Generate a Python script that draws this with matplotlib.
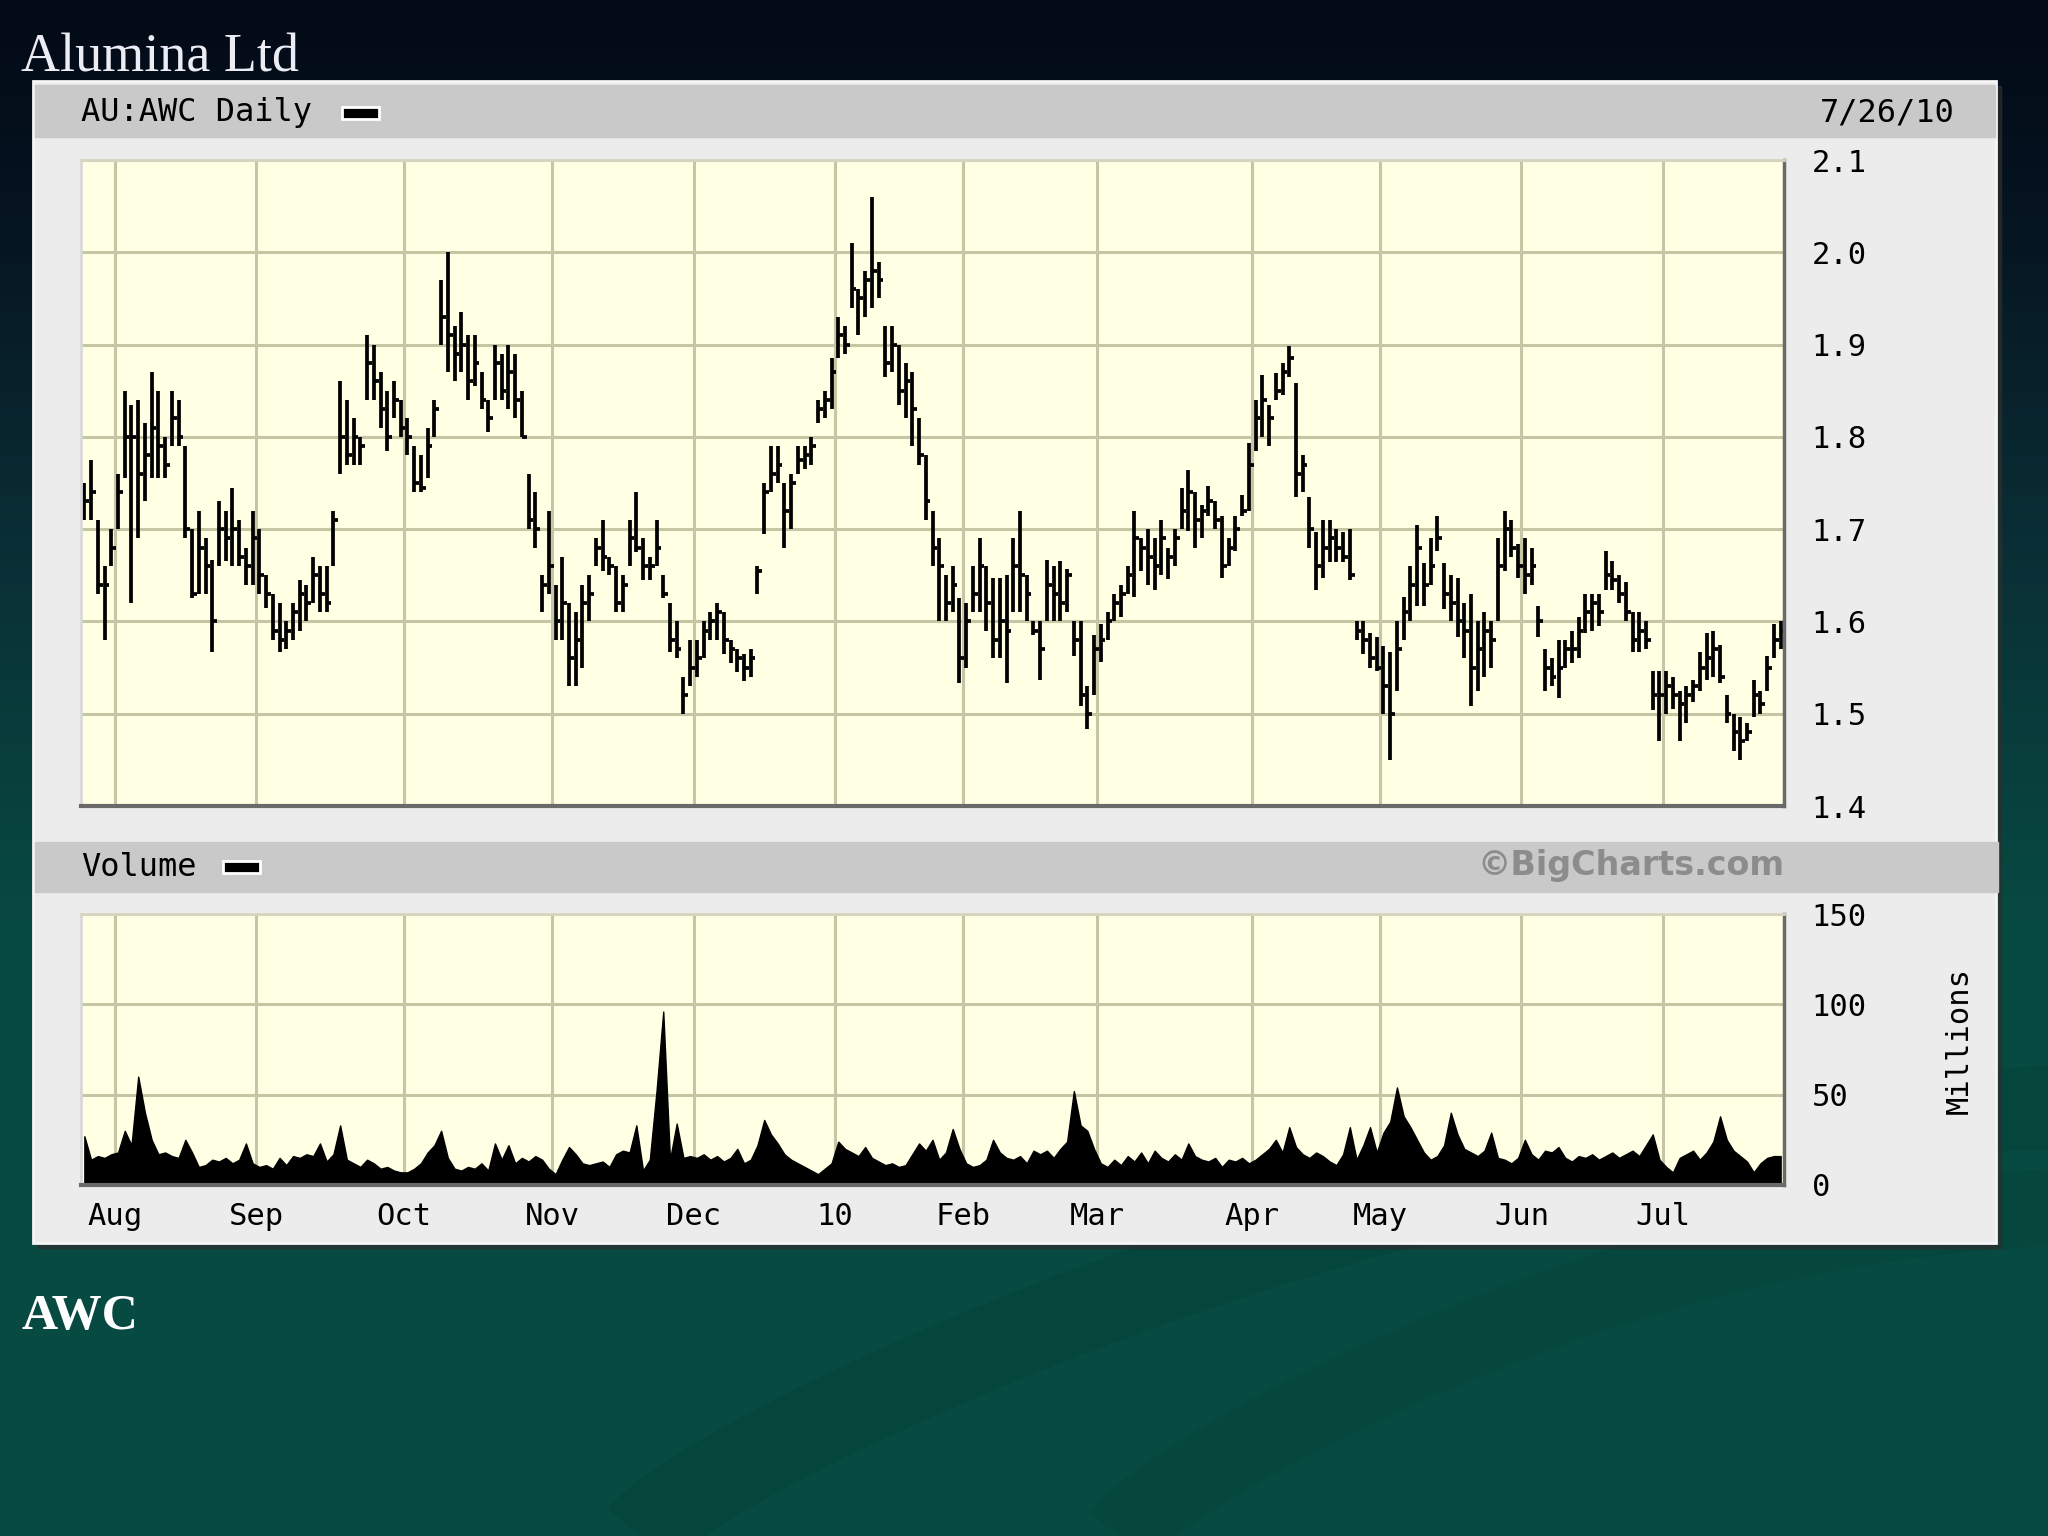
import numpy as np
import matplotlib
matplotlib.use('Agg')
from matplotlib import pyplot as plt
from matplotlib.colors import LinearSegmentedColormap
from matplotlib.patches import Rectangle

# trading days per month (first entry = last days of Jul 2009)
days_per_month = [5, 21, 22, 22, 21, 21, 19, 20, 23, 19, 21, 21, 18]
month_labels = ['Aug', 'Sep', 'Oct', 'Nov', 'Dec', '10', 'Feb', 'Mar', 'Apr', 'May', 'Jun', 'Jul']

high = [
    1.75, 1.775, 1.71, 1.66, 1.70,
    1.76, 1.85, 1.835, 1.84, 1.815, 1.87, 1.85, 1.80, 1.85, 1.84, 1.79, 1.70, 1.72, 1.69, 1.667, 1.73, 1.72, 1.745, 1.71, 1.68, 1.72,
    1.70, 1.65, 1.63, 1.62, 1.60, 1.62, 1.645, 1.64, 1.67, 1.66, 1.66, 1.72, 1.86, 1.84, 1.82, 1.80, 1.91, 1.90, 1.87, 1.85, 1.86, 1.84,
    1.82, 1.79, 1.78, 1.81, 1.84, 1.97, 2.00, 1.92, 1.935, 1.91, 1.91, 1.87, 1.84, 1.90, 1.89, 1.90, 1.89, 1.85, 1.76, 1.74, 1.65, 1.72,
    1.64, 1.67, 1.62, 1.61, 1.64, 1.65, 1.69, 1.71, 1.67, 1.66, 1.65, 1.71, 1.74, 1.69, 1.67, 1.71, 1.65, 1.62, 1.60, 1.54, 1.58,
    1.58, 1.60, 1.61, 1.62, 1.61, 1.58, 1.57, 1.565, 1.57, 1.66, 1.75, 1.79, 1.79, 1.75, 1.76, 1.79, 1.79, 1.80, 1.84, 1.85, 1.885,
    1.93, 1.92, 2.01, 1.96, 1.98, 2.06, 1.99, 1.92, 1.92, 1.90, 1.88, 1.87, 1.82, 1.78, 1.72, 1.69, 1.65, 1.66, 1.625,
    1.62, 1.66, 1.69, 1.66, 1.647, 1.647, 1.65, 1.69, 1.72, 1.65, 1.60, 1.60, 1.667, 1.66, 1.665, 1.657, 1.60, 1.60, 1.53, 1.585,
    1.597, 1.61, 1.63, 1.64, 1.66, 1.72, 1.69, 1.70, 1.69, 1.71, 1.68, 1.70, 1.745, 1.764, 1.74, 1.726, 1.747, 1.73, 1.714, 1.69, 1.714, 1.737, 1.793,
    1.84, 1.867, 1.835, 1.869, 1.88, 1.898, 1.858, 1.78, 1.735, 1.697, 1.71, 1.71, 1.70, 1.697, 1.70, 1.60, 1.60, 1.588, 1.583,
    1.573, 1.567, 1.60, 1.626, 1.66, 1.705, 1.663, 1.69, 1.714, 1.663, 1.65, 1.647, 1.62, 1.63, 1.60, 1.61, 1.60, 1.69, 1.72, 1.71, 1.684,
    1.69, 1.68, 1.617, 1.57, 1.56, 1.58, 1.58, 1.59, 1.605, 1.63, 1.63, 1.63, 1.676, 1.665, 1.65, 1.643, 1.61, 1.61, 1.60, 1.546, 1.546,
    1.546, 1.54, 1.525, 1.53, 1.537, 1.567, 1.588, 1.59, 1.575, 1.52, 1.50, 1.496, 1.49, 1.537, 1.525, 1.563, 1.597, 1.60,
]

low = [
    1.71, 1.71, 1.63, 1.58, 1.66,
    1.70, 1.755, 1.62, 1.69, 1.73, 1.755, 1.755, 1.755, 1.79, 1.79, 1.69, 1.625, 1.63, 1.63, 1.567, 1.66, 1.665, 1.66, 1.66, 1.64, 1.64,
    1.63, 1.615, 1.58, 1.567, 1.57, 1.58, 1.59, 1.60, 1.62, 1.61, 1.61, 1.66, 1.76, 1.77, 1.77, 1.77, 1.84, 1.84, 1.81, 1.785, 1.82, 1.80,
    1.78, 1.74, 1.74, 1.755, 1.80, 1.90, 1.87, 1.86, 1.87, 1.84, 1.855, 1.83, 1.805, 1.84, 1.84, 1.83, 1.82, 1.80, 1.70, 1.68, 1.61, 1.63,
    1.58, 1.58, 1.53, 1.53, 1.55, 1.60, 1.66, 1.655, 1.65, 1.61, 1.61, 1.66, 1.675, 1.645, 1.645, 1.66, 1.625, 1.567, 1.56, 1.50, 1.53,
    1.54, 1.56, 1.58, 1.58, 1.565, 1.555, 1.545, 1.535, 1.54, 1.63, 1.695, 1.74, 1.75, 1.68, 1.70, 1.76, 1.765, 1.77, 1.815, 1.82, 1.83,
    1.885, 1.89, 1.94, 1.91, 1.93, 1.94, 1.95, 1.865, 1.87, 1.835, 1.82, 1.79, 1.77, 1.71, 1.66, 1.60, 1.60, 1.61, 1.533,
    1.55, 1.61, 1.61, 1.59, 1.56, 1.56, 1.533, 1.61, 1.61, 1.60, 1.585, 1.537, 1.60, 1.60, 1.60, 1.61, 1.563, 1.508, 1.483, 1.52,
    1.556, 1.58, 1.60, 1.605, 1.63, 1.627, 1.655, 1.64, 1.634, 1.65, 1.646, 1.66, 1.70, 1.698, 1.68, 1.69, 1.714, 1.70, 1.647, 1.66, 1.676, 1.714, 1.72,
    1.785, 1.80, 1.79, 1.84, 1.845, 1.865, 1.735, 1.74, 1.68, 1.634, 1.647, 1.664, 1.664, 1.664, 1.645, 1.58, 1.565, 1.55, 1.546,
    1.50, 1.45, 1.525, 1.58, 1.60, 1.617, 1.617, 1.64, 1.676, 1.613, 1.60, 1.583, 1.56, 1.508, 1.525, 1.54, 1.55, 1.60, 1.655, 1.67, 1.647,
    1.63, 1.64, 1.583, 1.525, 1.53, 1.517, 1.55, 1.555, 1.56, 1.588, 1.59, 1.595, 1.634, 1.634, 1.62, 1.60, 1.567, 1.567, 1.57, 1.504, 1.47,
    1.50, 1.505, 1.47, 1.49, 1.513, 1.525, 1.537, 1.54, 1.533, 1.49, 1.46, 1.45, 1.47, 1.496, 1.50, 1.525, 1.56, 1.57,
]

close = [
    1.73, 1.74, 1.64, 1.64, 1.68,
    1.74, 1.80, 1.80, 1.76, 1.78, 1.81, 1.79, 1.77, 1.82, 1.80, 1.70, 1.63, 1.68, 1.66, 1.60, 1.70, 1.69, 1.70, 1.67, 1.66, 1.69,
    1.65, 1.63, 1.59, 1.58, 1.59, 1.61, 1.63, 1.62, 1.65, 1.63, 1.62, 1.71, 1.80, 1.78, 1.80, 1.79, 1.88, 1.86, 1.83, 1.80, 1.84, 1.81,
    1.80, 1.75, 1.745, 1.79, 1.83, 1.93, 1.91, 1.89, 1.90, 1.86, 1.88, 1.84, 1.82, 1.88, 1.85, 1.87, 1.84, 1.80, 1.71, 1.70, 1.64, 1.66,
    1.60, 1.62, 1.56, 1.58, 1.62, 1.63, 1.68, 1.67, 1.66, 1.62, 1.64, 1.69, 1.68, 1.66, 1.66, 1.68, 1.63, 1.58, 1.57, 1.52, 1.55,
    1.56, 1.59, 1.60, 1.61, 1.58, 1.57, 1.56, 1.55, 1.56, 1.655, 1.74, 1.76, 1.77, 1.72, 1.75, 1.775, 1.78, 1.79, 1.83, 1.84, 1.87,
    1.91, 1.90, 1.96, 1.95, 1.97, 1.98, 1.97, 1.88, 1.90, 1.85, 1.86, 1.83, 1.78, 1.73, 1.68, 1.66, 1.62, 1.64, 1.56,
    1.60, 1.63, 1.66, 1.62, 1.58, 1.60, 1.59, 1.66, 1.65, 1.63, 1.59, 1.57, 1.64, 1.63, 1.62, 1.65, 1.58, 1.52, 1.50, 1.57,
    1.58, 1.60, 1.62, 1.63, 1.65, 1.69, 1.68, 1.67, 1.66, 1.69, 1.67, 1.69, 1.72, 1.74, 1.71, 1.72, 1.73, 1.71, 1.66, 1.68, 1.70, 1.72, 1.77,
    1.82, 1.84, 1.82, 1.85, 1.87, 1.885, 1.76, 1.77, 1.70, 1.66, 1.68, 1.69, 1.68, 1.67, 1.65, 1.59, 1.58, 1.56, 1.55,
    1.53, 1.50, 1.57, 1.61, 1.64, 1.68, 1.64, 1.66, 1.69, 1.63, 1.62, 1.60, 1.59, 1.55, 1.57, 1.59, 1.58, 1.66, 1.70, 1.68, 1.66,
    1.65, 1.66, 1.60, 1.55, 1.54, 1.55, 1.57, 1.57, 1.59, 1.61, 1.62, 1.61, 1.65, 1.645, 1.63, 1.61, 1.58, 1.59, 1.58, 1.52, 1.52,
    1.53, 1.52, 1.51, 1.52, 1.53, 1.55, 1.56, 1.57, 1.54, 1.50, 1.48, 1.47, 1.48, 1.52, 1.51, 1.55, 1.58, 1.59,
]

# volume, millions
volume = [
    27, 14, 16, 15, 17,
    18, 30, 22, 60, 40, 25, 17, 18, 16, 15, 25, 18, 10, 11, 14, 13, 15, 12, 14, 23, 12,
    10, 11, 9, 15, 11, 16, 15, 17, 16, 23, 13, 17, 33, 14, 12, 10, 14, 12, 9, 10, 8, 7,
    7, 9, 12, 18, 22, 30, 15, 9, 8, 10, 9, 12, 8, 23, 14, 22, 12, 15, 13, 16, 14, 9,
    6, 14, 21, 17, 12, 11, 12, 13, 10, 17, 19, 18, 33, 8, 14, 52, 96, 14, 34, 15, 16,
    15, 17, 14, 16, 13, 15, 20, 12, 14, 22, 36, 28, 23, 17, 14, 12, 10, 8, 6, 9, 12,
    24, 20, 18, 16, 21, 15, 13, 11, 12, 10, 11, 17, 23, 19, 25, 14, 18, 31, 20,
    12, 10, 11, 14, 25, 18, 15, 14, 16, 12, 19, 17, 19, 15, 20, 24, 52, 33, 30, 20,
    12, 10, 14, 11, 16, 13, 18, 12, 19, 15, 13, 17, 14, 23, 16, 14, 13, 15, 10, 14, 13, 15, 12,
    14, 17, 20, 25, 18, 32, 21, 17, 15, 18, 16, 13, 11, 17, 32, 14, 22, 32, 18,
    29, 35, 54, 38, 32, 25, 18, 14, 16, 22, 40, 28, 20, 18, 16, 19, 29, 15, 14, 12, 15,
    25, 17, 14, 19, 18, 21, 15, 13, 16, 15, 17, 14, 16, 18, 15, 17, 19, 16, 22, 28, 14,
    10, 7, 15, 17, 19, 14, 18, 24, 38, 25, 19, 16, 13, 7, 12, 15, 16, 16,
]

n = len(close)
x = np.arange(n)
month_starts = np.cumsum(days_per_month)[:-1] - 0.5

mono = 'DejaVu Sans Mono'
W, H = 2048, 1536

fig = plt.figure(figsize=(20.48, 15.36), dpi=100)

# background slide
bg = fig.add_axes([0, 0, 1, 1])
bg.set_xlim(0, W)
bg.set_ylim(H, 0)
bg.axis('off')
cmap = LinearSegmentedColormap.from_list('slide', [
    (0.0, '#030a16'), (0.12, '#05121f'), (0.35, '#0a2e35'),
    (0.6, '#074a42'), (1.0, '#064a41')])
bg.imshow(np.linspace(0, 1, 256)[:, None], extent=[0, W, H, 0], aspect='auto', cmap=cmap, zorder=0)
t = np.linspace(0, 1, 200)
bg.plot(640 + 1500 * t, 1536 - 430 * np.sin(t * np.pi / 2) ** 0.8, color='#033d35', lw=60, alpha=0.35, zorder=1,
        solid_capstyle='butt')
bg.plot(1120 + 1000 * t, 1536 - 330 * np.sin(t * np.pi / 2) ** 0.8, color='#033d35', lw=55, alpha=0.3, zorder=1,
        solid_capstyle='butt')

# chart panel
bg.add_patch(Rectangle((38, 86), 1963, 1162, color='#2e2e2e', alpha=0.7, zorder=2))
bg.add_patch(Rectangle((33, 81), 1963, 1162, facecolor='#ececec', edgecolor='#f6f6f6', lw=2, zorder=3))
bg.add_patch(Rectangle((35, 85), 1960, 52, color='#c9c9c9', zorder=4))
bg.add_patch(Rectangle((35, 842), 1963, 50, color='#c9c9c9', zorder=4))

bg.text(81, 113, 'AU:AWC Daily', fontsize=23, family=mono, va='center', ha='left', zorder=5)
bg.add_patch(Rectangle((342, 107), 37, 12, facecolor='black', edgecolor='white', lw=2, zorder=5))
bg.text(1955, 113, '7/26/10', fontsize=23, family=mono, va='center', ha='right', zorder=5)
bg.text(81, 867, 'Volume', fontsize=23, family=mono, va='center', ha='left', zorder=5)
bg.add_patch(Rectangle((223, 861), 37, 12, facecolor='black', edgecolor='white', lw=2, zorder=5))
bg.text(1784, 866, '\u00a9BigCharts.com', fontsize=24, family='DejaVu Sans', fontweight='bold',
        color='#8c8c8c', va='center', ha='right', zorder=5)
bg.text(1959, 1041, 'Millions', fontsize=22, family=mono, rotation=90, va='center', ha='center', zorder=5)

bg.text(21, 72, 'Alumina Ltd', fontsize=39, family='Liberation Serif', color='#ececf4', va='baseline', zorder=5)
bg.text(21, 1329, 'AWC', fontsize=36, family='Liberation Serif', fontweight='bold', color='white',
        va='baseline', zorder=5)


def style_axes(ax):
    ax.set_facecolor('#ffffe4')
    ax.set_xlim(-0.5, n - 0.5)
    ax.set_xticks(month_starts)
    ax.grid(True, color='#c6c6a4', lw=2.2)
    ax.set_axisbelow(True)
    ax.yaxis.tick_right()
    ax.tick_params(axis='both', length=0, labelsize=22)
    for lab in ax.get_yticklabels() + ax.get_xticklabels():
        lab.set_family(mono)
    ax.spines['bottom'].set_color('#6a6a6a')
    ax.spines['bottom'].set_linewidth(3)
    ax.spines['right'].set_color('#6a6a6a')
    ax.spines['right'].set_linewidth(2.5)
    ax.spines['top'].set_color('#d6d6c0')
    ax.spines['top'].set_linewidth(2)
    ax.spines['left'].set_color('#d8d8d8')
    ax.spines['left'].set_linewidth(2)


# price panel
ax = fig.add_axes([81 / W, 1 - 806 / H, 1703 / W, 646 / H])
ax.vlines(x, low, high, color='black', lw=2.7)
ax.hlines(close, x, x + 0.7, color='black', lw=2.7)
ax.set_ylim(1.4, 2.1)
ax.set_yticks(np.arange(1.4, 2.11, 0.1))
ax.set_yticklabels(['%.1f' % v for v in np.arange(1.4, 2.11, 0.1)])
ax.set_xticklabels([])
style_axes(ax)
ax.tick_params(axis='y', pad=20)

# volume panel
ax2 = fig.add_axes([81 / W, 1 - 1185 / H, 1703 / W, 271 / H])
ax2.fill_between(x, 0, volume, color='black', lw=1.0)
ax2.set_ylim(0, 150)
ax2.set_yticks([0, 50, 100, 150])
ax2.set_yticklabels(['0', '50', '100', '150'])
ax2.set_xticklabels(month_labels)
style_axes(ax2)
ax2.tick_params(axis='y', pad=20)
ax2.tick_params(axis='x', pad=12)

fig.savefig('out.png', dpi=100)
